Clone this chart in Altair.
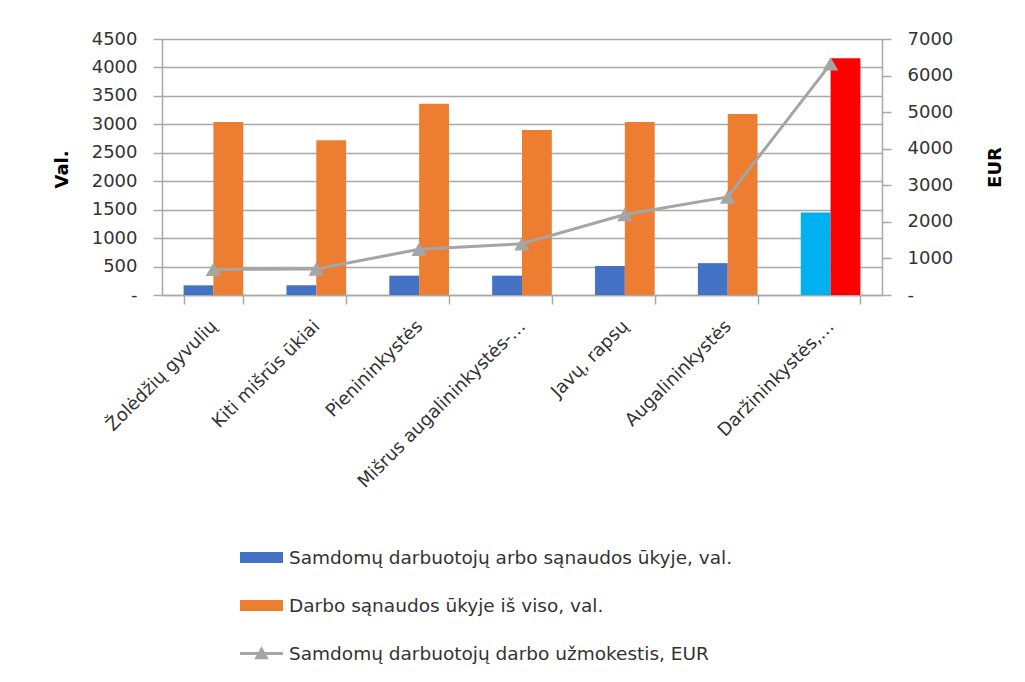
import altair as alt
import pandas as pd

categories = ["Žolėdžių gyvulių", "Kiti mišrūs ūkiai", "Pienininkystės",
              "Mišrus augalininkystės-…", "Javų, rapsų", "Augalininkystės",
              "Daržininkystės,…"]
hired_hours = [170, 170, 340, 340, 510, 560, 1450]
total_hours = [3040, 2720, 3360, 2900, 3040, 3180, 4160]
wages_eur = [700, 710, 1250, 1400, 2200, 2680, 6320]

s1 = "Samdomų darbuotojų arbo sąnaudos ūkyje, val."
s2 = "Darbo sąnaudos ūkyje iš viso, val."
s3 = "Samdomų darbuotojų darbo užmokestis, EUR"
series = [s1, s2, s3]
colors = ["#4472C4", "#ED7D31", "#A5A5A5"]
highlight = {s1: "#00B0F0", s2: "#FF0000"}

FONT = "DejaVu Sans"
TXT = "#333333"
GRID = "#A9A9A9"

rows = []
for i, c in enumerate(categories):
    rows.append({"cat": c, "idx": i, "series": s1, "value": hired_hours[i]})
    rows.append({"cat": c, "idx": i, "series": s2, "value": total_hours[i]})
bars_df = pd.DataFrame(rows)
line_df = pd.DataFrame({"cat": categories, "idx": list(range(len(categories))),
                        "series": s3, "value": wages_eur})
legend_df = pd.DataFrame({"series": series})

rect_path = "M-1,-0.256H1V0.256H-1Z"
line_path = "M-1,-0.07H1V0.07H-1Z M0,-0.34L0.34,0.27L-0.34,0.27Z"

color_scale = alt.Scale(domain=series, range=colors)
shape_scale = alt.Scale(domain=series, range=[rect_path, rect_path, line_path])
legend = alt.Legend(title=None, orient="none", legendX=78, legendY=497,
                    direction="vertical", symbolSize=1849, symbolOpacity=1,
                    symbolStrokeWidth=0, labelFontSize=18.5, labelFont=FONT,
                    labelColor=TXT, labelLimit=700, rowPadding=17, padding=0,
                    labelOffset=6)

x_enc = alt.X("cat:N", sort=categories, title=None,
              scale=alt.Scale(paddingInner=0.42, paddingOuter=0.21),
              axis=alt.Axis(labelAngle=-45, labelFontSize=18, labelFont=FONT,
                            labelColor=TXT, tickBand="extent", tickSize=9,
                            tickColor=GRID, tickWidth=1.5, domainColor=GRID,
                            domainWidth=1.5, labelPadding=13, labelOffset=-6,
                            labelLimit=400))

bars = alt.Chart(bars_df).mark_bar().encode(
    x=x_enc,
    xOffset=alt.XOffset("series:N", sort=[s1, s2], scale=alt.Scale(domain=[s1, s2])),
    y=alt.Y("value:Q", scale=alt.Scale(domain=[0, 4500], nice=False),
            axis=alt.Axis(title="Val.", values=list(range(0, 4501, 500)), format="d",
                          labelExpr="datum.value == 0 ? '-' : datum.label",
                          labelFontSize=18, labelFont=FONT, labelColor=TXT,
                          labelPadding=16, tickSize=9, tickColor=GRID, tickWidth=1.5,
                          domainColor=GRID, domainWidth=1.5, grid=True,
                          gridColor=GRID, gridWidth=1.5, titleFont=FONT,
                          titleFontSize=18, titleFontWeight="bold", titleColor="#000",
                          titleAngle=270, titleX=-100, titleY=130,
                          titleAlign="center", titleBaseline="middle")),
    color=alt.Color("series:N", scale=color_scale, legend=legend, condition=[
        {"test": f"datum.idx == 6 && datum.series == '{s1}'", "value": highlight[s1]},
        {"test": f"datum.idx == 6 && datum.series == '{s2}'", "value": highlight[s2]},
    ]),
)

y_right = alt.Y("value:Q", scale=alt.Scale(domain=[0, 7000], nice=False),
                axis=alt.Axis(title="EUR", orient="right",
                              values=list(range(0, 7001, 1000)), format="d",
                              labelExpr="datum.value == 0 ? '-' : datum.label",
                              labelFontSize=18, labelFont=FONT, labelColor=TXT,
                              labelPadding=16, tickSize=9, tickColor=GRID,
                              tickWidth=1.5, domainColor=GRID, domainWidth=1.5,
                              grid=False, titleFont=FONT, titleFontSize=18,
                              titleFontWeight="bold", titleColor="#000",
                              titleAngle=270, titleX=113, titleY=128,
                              titleAlign="center", titleBaseline="middle"))

line = alt.Chart(line_df).mark_line(color="#A5A5A5", strokeWidth=3).encode(
    x=alt.X("cat:N", sort=categories), y=y_right)
pts = alt.Chart(line_df).mark_point(shape="triangle-up", filled=True, size=240,
                                    color="#A5A5A5", opacity=1).encode(
    x=alt.X("cat:N", sort=categories), y=y_right)
wage_layer = alt.layer(line, pts)

legend_layer = alt.Chart(legend_df).mark_point(filled=True, opacity=0, size=0).encode(
    color=alt.Color("series:N", scale=color_scale, legend=legend),
    shape=alt.Shape("series:N", scale=shape_scale, legend=legend),
)

chart = alt.layer(bars, wage_layer, legend_layer).resolve_scale(
    y="independent"
).properties(
    width=720, height=256,
    autosize=alt.AutoSizeParams(type="none"),
    padding={"left": 154, "top": 31, "right": 130, "bottom": 380},
).configure_view(stroke=None).configure(font=FONT, background="white")

chart.save("out.html", embed_options={"renderer": "svg", "actions": False})
